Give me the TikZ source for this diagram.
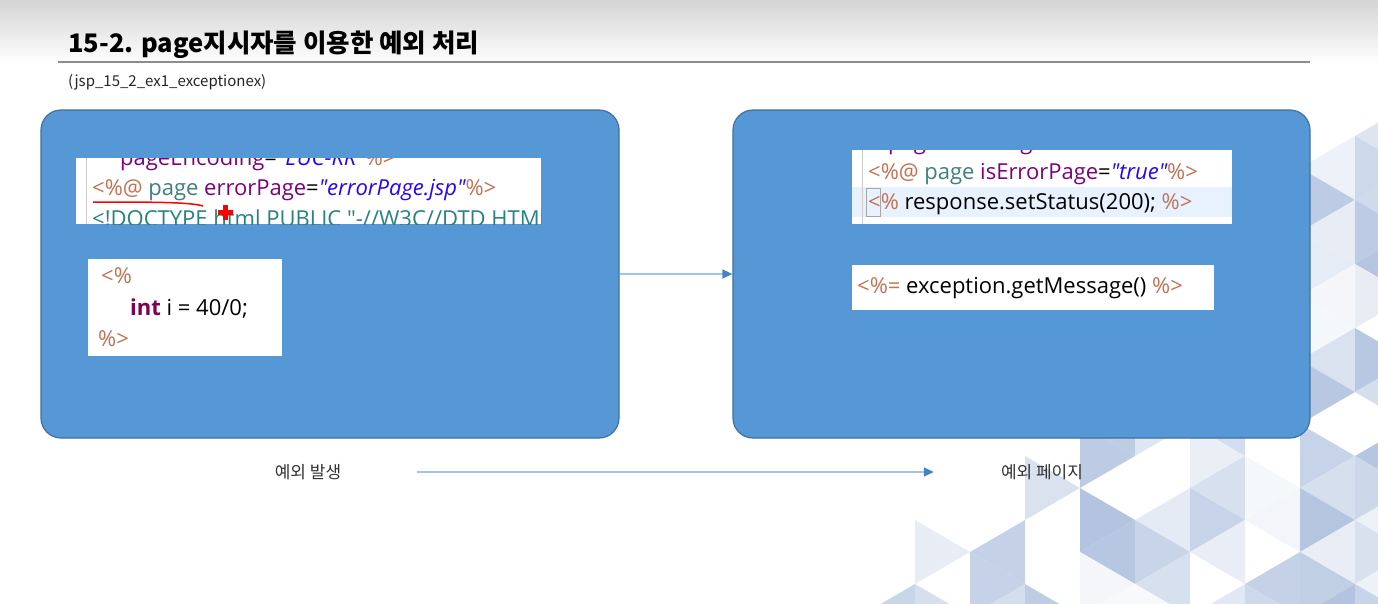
\documentclass[tikz,border=0pt]{standalone}
\usepackage{fontspec}
\setmainfont{Noto Sans CJK KR}
\newfontfamily\codefont{Open Sans}
\usetikzlibrary{arrows.meta,positioning}
\definecolor{panelblue}{RGB}{86,151,213}
\definecolor{panelline}{RGB}{66,112,156}
\definecolor{flowline}{RGB}{160,196,230}
\definecolor{flowhead}{RGB}{70,130,200}
\definecolor{headgray}{RGB}{212,212,212}
\definecolor{rulegray}{RGB}{140,140,140}
\definecolor{delim}{RGB}{196,112,82}
\definecolor{directive}{RGB}{63,127,127}
\definecolor{attr}{RGB}{127,0,127}
\definecolor{val}{RGB}{42,0,255}
\definecolor{kw}{RGB}{127,0,85}
\definecolor{doc}{RGB}{40,130,130}
\definecolor{curline}{RGB}{232,242,254}
\definecolor{tri}{RGB}{118,148,198}
\tikzset{
  panel/.style   = {draw=panelline, fill=panelblue, rounded corners=20pt,
                    line width=1.2pt, minimum width=578pt, minimum height=328pt,
                    inner sep=0pt},
  snip/.style    = {fill=white, inner sep=0pt, anchor=north west},
  code/.style    = {anchor=base west, inner sep=0pt,
                    font=\codefont\fontsize{22}{26}\selectfont},
  flow/.style    = {draw=flowline, line width=1.6pt,
                    -{Triangle[length=10pt,width=9pt,color=flowhead]}},
  caption/.style = {font=\fontsize{17}{20}\selectfont, text=black!80, inner sep=0pt},
  margin/.style  = {draw=black!20, line width=0.6pt},
}
\begin{document}
\begin{tikzpicture}[x=1pt, y=-1pt]
  \useasboundingbox (0,0) rectangle (1378,603);
  \fill[white] (0,0) rectangle (1378,603);
  \shade[top color=headgray, bottom color=white] (0,0) rectangle (1378,64);

  % triangle pattern, bottom right
  \pgfmathsetseed{11}
  \begin{scope}
    \clip (0,64) rectangle (1378,603);
    \foreach \c in {0,...,9} {
      \foreach \r in {0,...,9} {
        \pgfmathsetmacro{\xa}{860+55*\c}
        \pgfmathsetmacro{\xb}{\xa+55}
        \pgfmathsetmacro{\ya}{40+64*\r+32*mod(\c,2)}
        \pgfmathsetmacro{\yb}{\ya+32}
        \pgfmathsetmacro{\yc}{\ya+64}
        \pgfmathsetmacro{\yd}{\ya+96}
        \pgfmathtruncatemacro{\keep}{((\xa+18-880)/498+(\yb-100)/503>1.0) ? 1 : 0}
        \pgfmathrandominteger{\sh}{6}{55}
        \pgfmathrandominteger{\sk}{0}{9}
        \ifnum\keep=1 \ifnum\sk>1
          \fill[tri!\sh] (\xa,\ya) -- (\xa,\yc) -- (\xb,\yb) -- cycle;
        \fi\fi
        \pgfmathtruncatemacro{\keep}{((\xb-18-880)/498+(\yc-100)/503>1.0) ? 1 : 0}
        \pgfmathrandominteger{\sh}{6}{55}
        \pgfmathrandominteger{\sk}{0}{9}
        \ifnum\keep=1 \ifnum\sk>1
          \fill[tri!\sh] (\xb,\yb) -- (\xb,\yd) -- (\xa,\yc) -- cycle;
        \fi\fi
      }
    }
  \end{scope}

  % title
  \node[anchor=base west, inner sep=0pt, font=\bfseries\fontsize{25.5}{30}\selectfont]
    (title) at (68,52) {15-2. page지시자를 이용한 예외 처리};
  \draw[rulegray, line width=2pt] (58,62) -- (1310,62);
  \node[anchor=base west, inner sep=0pt, font=\fontsize{15}{18}\selectfont, text=black!85]
    (project) at (68,86) {(jsp\_15\_2\_ex1\_exceptionex)};

  % panels
  \node[panel] (throwpanel) at (330,274) {};
  \node[panel, minimum width=577pt] (catchpanel) at (1021.5,274) {};
  \draw[flow] (throwpanel.east) -- (catchpanel.west);

  % page with errorPage
  \node[snip, minimum width=465pt, minimum height=66pt] (dirsnip) at (76,158) {};
  \begin{scope}
    \clip (dirsnip.north west) rectangle (dirsnip.south east);
    \draw[margin] (86,158) -- (86,224);
    \node[code] (encline) at (120,165)
      {\textcolor{attr}{pageEncoding}=\textcolor{val}{\itshape"EUC-KR"}\textcolor{delim}{\%>}};
    \node[code] (errline) at (92,195)
      {\textcolor{delim}{<\%@} \textcolor{directive}{page} \textcolor{attr}{errorPage}=\textcolor{val}{\itshape"errorPage.jsp"}\textcolor{delim}{\%>}};
    \node[code, text=doc] (docline) at (92,226)
      {<!DOCTYPE html PUBLIC "-//W3C//DTD HTML 4.01 Transitional//EN"};
  \end{scope}
  \draw[red, line width=1.5pt] (93,202) .. controls (150,202) and (190,202) .. (203,206);
  \fill[red] (222.5,205) rectangle (227.5,220);
  \fill[red] (217.5,210) rectangle (232.5,215);

  % scriptlet
  \node[snip, minimum width=194pt, minimum height=97pt] (divsnip) at (88,259) {};
  \node[code, text=delim] (openline) at (101,283) {<\%};
  \node[code] (intline) at (130,315) {\textcolor{kw}{\bfseries int} i = 40/0;};
  \node[code, text=delim] (closeline) at (98,346) {\%>};

  % error page directive
  \node[snip, minimum width=380pt, minimum height=74pt] (isesnip) at (852,150) {};
  \begin{scope}
    \clip (isesnip.north west) rectangle (isesnip.south east);
    \fill[curline] (852,187) rectangle (1232,217);
    \draw[margin] (862,150) -- (862,224);
    \draw[black!35, line width=0.8pt] (866,188) rectangle (880,216);
    \node[code] (encline2) at (888,149)
      {\textcolor{attr}{pageEncoding}=\textcolor{val}{\itshape"EUC-KR"}\textcolor{delim}{\%>}};
    \node[code] (iseline) at (868,179)
      {\textcolor{delim}{<\%@} \textcolor{directive}{page} \textcolor{attr}{isErrorPage}=\textcolor{val}{\itshape"true"}\textcolor{delim}{\%>}};
    \node[code] (statusline) at (868,209)
      {\textcolor{delim}{<\%} response.setStatus(200); \textcolor{delim}{\%>}};
  \end{scope}

  % expression
  \node[snip, minimum width=362pt, minimum height=45pt] (msgsnip) at (852,265) {};
  \node[code] (msgline) at (857,293)
    {\textcolor{delim}{<\%=} exception.getMessage() \textcolor{delim}{\%>}};

  % captions
  \node[caption] (throwlabel) at (308,472) {예외 발생};
  \node[caption] (catchlabel) at (1042,472) {예외 페이지};
  \draw[flow, shorten <=76pt, shorten >=67pt] (throwlabel.east) -- (catchlabel.west);
\end{tikzpicture}
\end{document}
